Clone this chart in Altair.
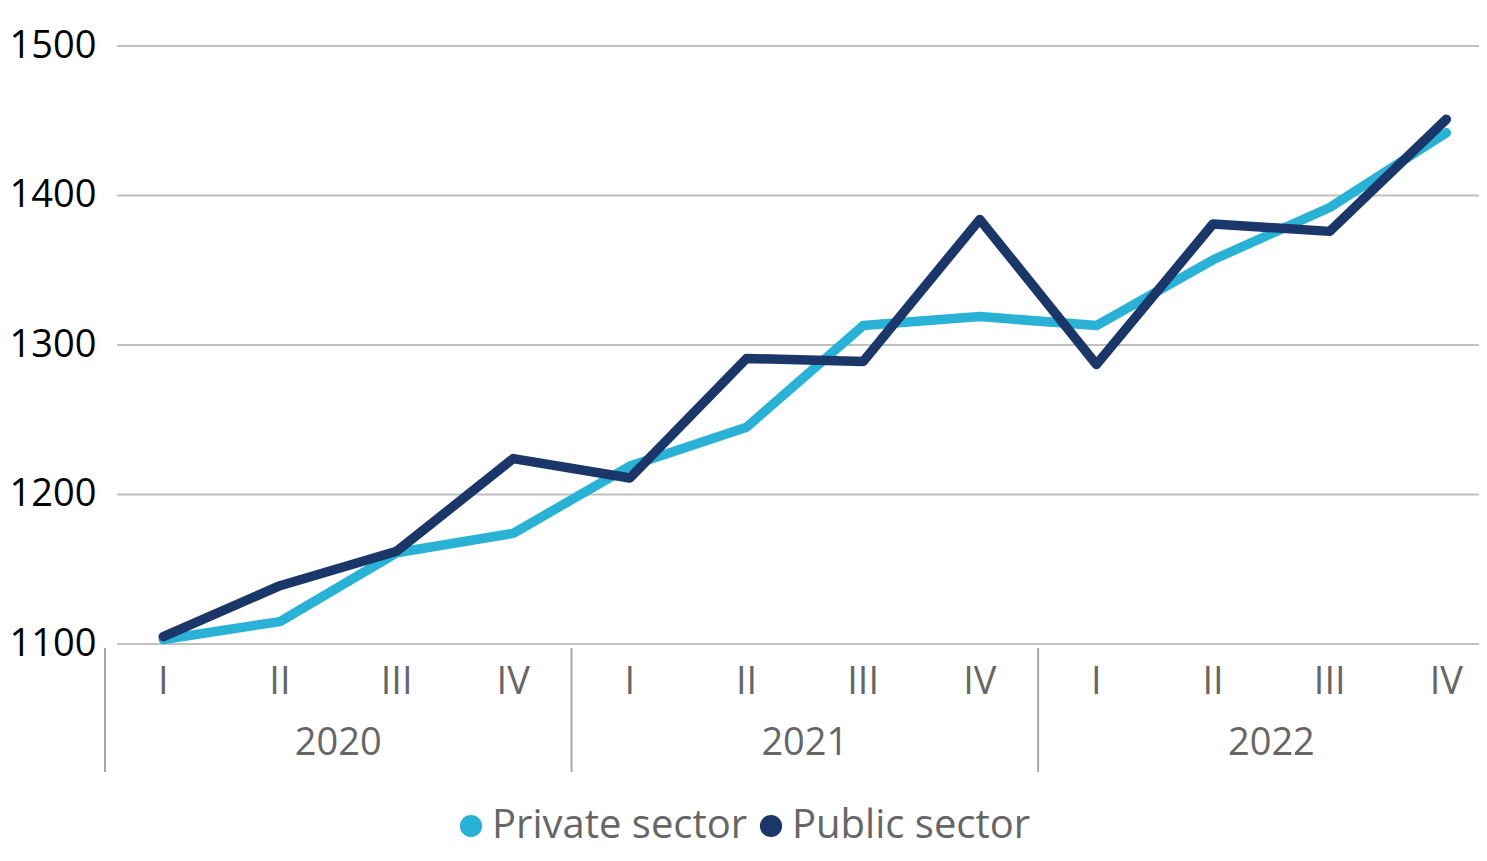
import altair as alt
import pandas as pd

quarters = ["I", "II", "III", "IV", "I", "II", "III", "IV", "I", "II", "III", "IV"]
years = ["2020", "2021", "2022"]
year_centers = [1.5, 5.5, 9.5]
dividers = [-0.5, 3.5, 7.5]
private = [1103, 1115, 1161, 1174, 1219, 1245, 1313, 1319, 1313, 1357, 1392, 1442]
public = [1105, 1139, 1162, 1224, 1211, 1291, 1289, 1384, 1287, 1381, 1376, 1451]
series = ["Private sector", "Public sector"]
colors = ["#29B1D6", "#1B3769"]
gridvals = [1100, 1200, 1300, 1400, 1500]

rows = []
for i, (q, a, b) in enumerate(zip(quarters, private, public)):
    rows.append({"i": i, "q": q, "series": series[0], "value": a})
    rows.append({"i": i, "q": q, "series": series[1], "value": b})
df = pd.DataFrame(rows)
qdf = pd.DataFrame({"i": list(range(len(quarters))), "q": quarters})
ydf = pd.DataFrame({"i": year_centers, "year": years})
ddf = pd.DataFrame({"i": dividers})
gdf = pd.DataFrame({"value": gridvals})

W = 1374
H = 598
FONT = "Open Sans"
xs = alt.Scale(domain=[-0.5, 11.28], nice=False, zero=False)
ys = alt.Scale(domain=[1100, 1500], nice=False, zero=False)
cs = alt.Scale(domain=series, range=colors)
yaxis = alt.Axis(values=gridvals, format="d", title=None, domain=False, ticks=False, grid=False,
                 labelFontSize=38, labelColor="#000000", labelFont=FONT, labelPadding=9)

grid = alt.Chart(gdf).mark_rule(color="#C0C0C0", strokeWidth=2).encode(
    y=alt.Y("value:Q", scale=ys, axis=yaxis),
    x=alt.value(12), x2=alt.value(W),
)

dots = alt.Chart(df).mark_circle(size=10, opacity=1).encode(
    x=alt.X("i:Q", scale=xs, axis=None),
    y=alt.Y("value:Q", scale=ys, axis=yaxis),
    color=alt.Color("series:N", scale=cs, legend=alt.Legend(
        orient="none", legendX=346, legendY=760, direction="horizontal", title=None,
        symbolType="circle", symbolSize=430, labelFontSize=40, labelLimit=0,
        labelColor="#666666", labelFont=FONT, columnPadding=3, labelOffset=1)),
)

lines = alt.Chart(df).mark_line(strokeWidth=9.5, strokeCap="round", strokeJoin="round").encode(
    x=alt.X("i:Q", scale=xs, axis=None),
    y=alt.Y("value:Q", scale=ys, axis=yaxis),
    color=alt.Color("series:N", scale=cs, legend=None),
)

qlab = alt.Chart(qdf).mark_text(fontSize=38, color="#666666", baseline="middle", font=FONT).encode(
    x=alt.X("i:Q", scale=xs, axis=None), y=alt.value(H + 39), text="q:N")

ylab = alt.Chart(ydf).mark_text(fontSize=38, color="#666666", baseline="middle", font=FONT).encode(
    x=alt.X("i:Q", scale=xs, axis=None), y=alt.value(H + 100), text="year:N")

divs = alt.Chart(ddf).mark_rule(color="#A6A6A6", strokeWidth=2).encode(
    x=alt.X("i:Q", scale=xs, axis=None), y=alt.value(H + 4), y2=alt.value(H + 128))

chart = alt.layer(grid, divs, dots, lines, qlab, ylab).properties(
    width=W, height=H,
    autosize=alt.AutoSizeParams(type="none"),
    padding={"left": 97, "top": 38, "right": 0, "bottom": 205},
    background="white",
).configure_view(stroke=None)

chart.save("out.html", embed_options={"renderer": "svg", "actions": False})
